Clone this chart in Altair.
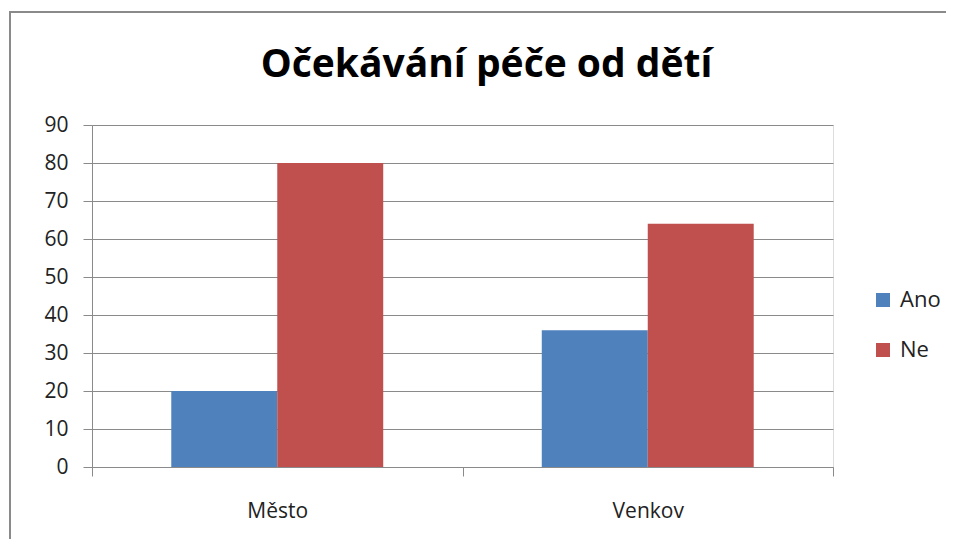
import altair as alt
import pandas as pd

categories = ["Město", "Venkov"]
series = ["Ano", "Ne"]
ano_values = [20, 36]
ne_values = [80, 64]
y_ticks = [0, 10, 20, 30, 40, 50, 60, 70, 80, 90]
title_text = "Očekávání péče od dětí"
colors = ["#4F81BD", "#C0504D"]

rows = []
for i, c in enumerate(categories):
    rows.append({"kategorie": c, "odpoved": series[0], "hodnota": ano_values[i]})
    rows.append({"kategorie": c, "odpoved": series[1], "hodnota": ne_values[i]})
df = pd.DataFrame(rows)

FONT = "Open Sans"
W, H = 741, 342
PAD = {"left": 84, "top": 117, "right": 113, "bottom": 72}

bars = alt.Chart(df).mark_bar().encode(
    x=alt.X(
        "kategorie:N",
        sort=categories,
        scale=alt.Scale(paddingInner=0, paddingOuter=0),
        axis=alt.Axis(
            title=None,
            labelAngle=0,
            tickBand="extent",
            tickSize=9,
            tickColor="#8a8a8a",
            domainColor="#8a8a8a",
            labelFontSize=21,
            labelColor="#222222",
            labelFont=FONT,
            labelPadding=24,
            grid=False,
        ),
    ),
    xOffset=alt.XOffset(
        "odpoved:N",
        sort=series,
        scale=alt.Scale(paddingInner=0, paddingOuter=0.748),
    ),
    y=alt.Y(
        "hodnota:Q",
        scale=alt.Scale(domain=[0, 90], nice=False),
        axis=alt.Axis(
            title=None,
            values=y_ticks,
            tickSize=9,
            tickColor="#8a8a8a",
            domainColor="#8a8a8a",
            gridColor="#8a8a8a",
            labelFontSize=21,
            labelColor="#222222",
            labelFont=FONT,
            labelPadding=15,
        ),
    ),
    color=alt.Color(
        "odpoved:N",
        sort=series,
        scale=alt.Scale(domain=series, range=colors),
        legend=alt.Legend(
            title=None,
            orient="none",
            legendX=780,
            legendY=164,
            symbolType="square",
            symbolSize=196,
            symbolStrokeWidth=0,
            symbolOpacity=1,
            labelFontSize=22,
            labelFont=FONT,
            labelColor="#222222",
            labelOffset=6,
            rowPadding=28,
            padding=0,
        ),
    ),
)

frame = alt.Chart(pd.DataFrame({"f": [0]})).mark_rect(
    fill="white", fillOpacity=0, stroke="#8a8a8a", strokeWidth=2
).encode(
    x=alt.value(-82),
    x2=alt.value(W + PAD["right"] + 20),
    y=alt.value(-113),
    y2=alt.value(H + PAD["bottom"] + 20),
)

chart = alt.layer(frame, bars).properties(
    width=W,
    height=H,
    padding=PAD,
    autosize=alt.AutoSizeParams(type="none"),
    title=alt.Title(
        title_text,
        font=FONT,
        fontSize=39,
        fontWeight="bold",
        color="#000000",
        anchor="middle",
        dx=24,
        offset=-74,
    ),
).configure_view(stroke=None).configure(background="white")

chart.save("out.html", embed_options={"renderer": "svg", "actions": False})
